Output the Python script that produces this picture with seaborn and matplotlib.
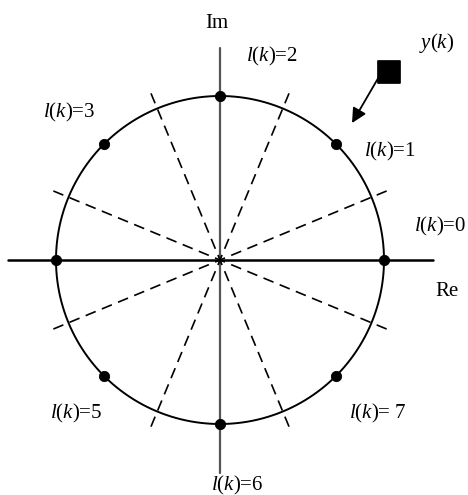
import numpy as np
import pandas as pd
import matplotlib
matplotlib.use("Agg")
import matplotlib.pyplot as plt
import seaborn as sns

# constellation levels l(k) and their phase angles (degrees)
levels = [0, 1, 2, 3, 4, 5, 6, 7]
angles_deg = [0, 45, 90, 135, 180, 225, 270, 315]
# decision boundaries (dashed), each a full diameter
boundary_deg = [22.5, 67.5, 112.5, 157.5]
# labelled levels (l(k)=4 is not labelled in the figure)
label_levels = [0, 1, 2, 3, 5, 6, 7]
label_texts = ["=0", "=1", "=2", "=3", "=5", "=6", "= 7"]
# received sample y(k)
y_point = (1.03, 1.146)

sns.set_theme(style="white")
plt.rcParams["mathtext.fontset"] = "custom"
plt.rcParams["mathtext.rm"] = "Liberation Serif"
plt.rcParams["mathtext.it"] = "Liberation Serif:italic"
plt.rcParams["font.family"] = ["Liberation Serif", "DejaVu Serif"]
plt.rcParams["text.color"] = "black"

fig = plt.figure(figsize=(4.68, 4.95), dpi=100)
ax = fig.add_axes([0, 0, 1, 1])

# axes lines
ax.plot([-1.29, 1.30], [0, 0], color="black", lw=1.8, zorder=1)
ax.plot([0, 0], [-1.30, 1.29], color="#555555", lw=1.6, zorder=1)

# dashed boundaries
for b in boundary_deg:
    t = np.deg2rad(b)
    r = 1.10
    ax.plot([-r * np.cos(t), r * np.cos(t)], [-r * np.sin(t), r * np.sin(t)],
            color="black", lw=1.2, ls=(0, (6.5, 4)), zorder=1)

# unit circle
theta = np.linspace(0, 2 * np.pi, 400)
circle = pd.DataFrame({"x": np.cos(theta), "y": np.sin(theta)})
sns.lineplot(data=circle, x="x", y="y", sort=False, estimator=None,
             color="black", lw=1.4, ax=ax, zorder=2)

# constellation points
pts = pd.DataFrame({"level": levels,
                    "x": np.cos(np.deg2rad(angles_deg)),
                    "y": np.sin(np.deg2rad(angles_deg))})
sns.scatterplot(data=pts, x="x", y="y", color="black", s=55,
                edgecolor="black", ax=ax, zorder=3)

# received sample
sns.scatterplot(x=[y_point[0]], y=[y_point[1]], marker="s", color="black",
                s=240, edgecolor="black", ax=ax, zorder=3)
ax.annotate("", xy=(0.805, 0.835), xytext=(0.965, 1.11),
            arrowprops=dict(arrowstyle="-|>", color="black", lw=1.3,
                            mutation_scale=22, shrinkA=0, shrinkB=0))

# labels
fs = 15
label_pos = {0: (1.345, 0.207), 1: (1.037, 0.659), 2: (0.317, 1.238),
             3: (-0.921, 0.902), 5: (-0.878, -0.933), 6: (0.104, -1.372),
             7: (0.963, -0.933)}
for lv, txt in zip(label_levels, label_texts):
    x, y = label_pos[lv]
    ax.text(x, y, r"$l(k)$" + txt, fontsize=fs, ha="center", va="center")

ax.text(-0.018, 1.445, "Im", fontsize=fs, ha="center", va="center")
ax.text(1.384, -0.195, "Re", fontsize=fs, ha="center", va="center")
ax.text(1.323, 1.323, r"$y(k)$", fontsize=fs, ha="center", va="center")

ax.set_xlim(-220 / 164, 248 / 164)
ax.set_ylim(-235 / 164, 260 / 164)
ax.set_aspect("equal")
ax.axis("off")

fig.savefig("out.png", dpi=100, facecolor="white")
